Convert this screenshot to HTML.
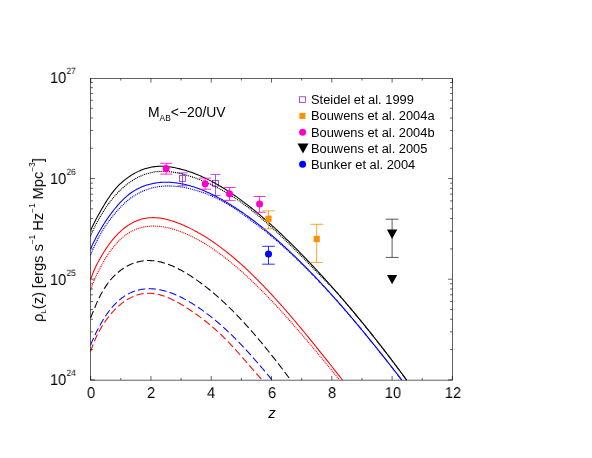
<!DOCTYPE html>
<html><head><meta charset="utf-8"><title>plot</title>
<style>
html,body{margin:0;padding:0;background:#fff;}
body{width:592px;height:458px;position:relative;overflow:hidden;font-family:"Liberation Sans",sans-serif;color:#000;}
.t{position:absolute;white-space:nowrap;line-height:1;will-change:transform;}
.tk{font-size:15.6px;transform:scaleX(0.93);text-rendering:geometricPrecision;}
.tky{transform-origin:0 50%;}
sup,sub{line-height:0;}
.tk sup{font-size:9.1px;vertical-align:8.9px;margin-left:0.4px;}
.lg{font-size:12.85px;left:310.5px;}
.yl sup{font-size:8.3px;vertical-align:8.4px;}
.yl sub{font-size:8px;vertical-align:-3px;}
</style></head><body>
<svg width="592" height="458" viewBox="0 0 592 458" style="position:absolute;left:0;top:0"><rect width="592" height="458" fill="#fff"/><path d="M182.5,172.9V185.8M177.5,172.9h10.0M177.5,185.8h10.0" stroke="#9933cc" stroke-width="0.82" fill="none"/><rect x="179.45" y="175.60" width="6.1" height="5.8" fill="none" stroke="#9933cc" stroke-width="0.85"/><path d="M215.5,174.4V195.4M210.5,174.4h10.0M210.5,195.4h10.0" stroke="#9933cc" stroke-width="0.82" fill="none"/><rect x="212.45" y="180.40" width="6.1" height="5.8" fill="none" stroke="#9933cc" stroke-width="0.85"/><g fill="none" stroke-linejoin="round"><path d="M90.66,230.35 L91.66,228.16 L92.67,226.03 L93.67,223.97 L94.68,221.97 L95.68,220.02 L96.69,218.12 L97.69,216.26 L98.70,214.43 L99.70,212.63 L100.71,210.85 L101.71,209.10 L102.72,207.37 L103.72,205.66 L104.73,203.99 L105.73,202.36 L106.74,200.75 L107.74,199.19 L108.75,197.67 L109.75,196.20 L110.76,194.78 L111.76,193.40 L112.77,192.08 L113.77,190.81 L114.78,189.60 L115.78,188.43 L116.79,187.31 L117.79,186.24 L118.80,185.21 L119.80,184.22 L120.81,183.27 L121.81,182.36 L122.81,181.49 L123.82,180.65 L124.82,179.84 L125.83,179.06 L126.83,178.30 L127.84,177.58 L128.84,176.88 L129.85,176.20 L130.85,175.54 L131.86,174.91 L132.86,174.30 L133.87,173.72 L134.87,173.16 L135.88,172.62 L136.88,172.10 L137.89,171.61 L138.89,171.14 L139.90,170.69 L140.90,170.26 L141.91,169.86 L142.91,169.48 L143.92,169.12 L144.92,168.79 L145.93,168.47 L146.93,168.18 L147.94,167.91 L148.94,167.66 L149.95,167.43 L150.95,167.23 L151.95,167.04 L152.96,166.88 L153.96,166.74 L154.97,166.61 L155.97,166.51 L156.98,166.43 L157.98,166.36 L158.99,166.31 L159.99,166.28 L161.00,166.27 L162.00,166.28 L163.01,166.30 L164.01,166.34 L165.02,166.39 L166.02,166.46 L167.03,166.55 L168.03,166.65 L169.04,166.77 L170.04,166.90 L171.05,167.04 L172.05,167.19 L173.06,167.36 L174.06,167.55 L175.07,167.74 L176.07,167.95 L177.08,168.16 L178.08,168.39 L179.09,168.63 L180.09,168.88 L181.10,169.14 L182.10,169.40 L183.10,169.68 L184.11,169.97 L185.11,170.27 L186.12,170.57 L187.12,170.89 L188.13,171.21 L189.13,171.55 L190.14,171.89 L191.14,172.25 L192.15,172.61 L193.15,172.98 L194.16,173.36 L195.16,173.75 L196.17,174.15 L197.17,174.55 L198.18,174.97 L199.18,175.39 L200.19,175.83 L201.19,176.27 L202.20,176.72 L203.20,177.18 L204.21,177.65 L205.21,178.12 L206.22,178.61 L207.22,179.10 L208.23,179.60 L209.23,180.11 L210.24,180.62 L211.24,181.15 L212.24,181.68 L213.25,182.22 L214.25,182.77 L215.26,183.33 L216.26,183.89 L217.27,184.46 L218.27,185.04 L219.28,185.63 L220.28,186.22 L221.29,186.82 L222.29,187.43 L223.30,188.05 L224.30,188.67 L225.31,189.30 L226.31,189.94 L227.32,190.58 L228.32,191.23 L229.33,191.89 L230.33,192.56 L231.34,193.23 L232.34,193.91 L233.35,194.59 L234.35,195.29 L235.36,195.99 L236.36,196.69 L237.37,197.40 L238.37,198.12 L239.38,198.85 L240.38,199.58 L241.39,200.32 L242.39,201.06 L243.39,201.81 L244.40,202.57 L245.40,203.33 L246.41,204.10 L247.41,204.87 L248.42,205.65 L249.42,206.44 L250.43,207.23 L251.43,208.03 L252.44,208.83 L253.44,209.64 L254.45,210.46 L255.45,211.28 L256.46,212.11 L257.46,212.94 L258.47,213.78 L259.47,214.62 L260.48,215.47 L261.48,216.32 L262.49,217.18 L263.49,218.05 L264.50,218.92 L265.50,219.79 L266.51,220.67 L267.51,221.56 L268.52,222.45 L269.52,223.34 L270.53,224.24 L271.53,225.15 L272.53,226.06 L273.54,226.97 L274.54,227.89 L275.55,228.82 L276.55,229.74 L277.56,230.68 L278.56,231.62 L279.57,232.56 L280.57,233.50 L281.58,234.45 L282.58,235.41 L283.59,236.37 L284.59,237.33 L285.60,238.30 L286.60,239.27 L287.61,240.25 L288.61,241.23 L289.62,242.21 L290.62,243.20 L291.63,244.19 L292.63,245.19 L293.64,246.19 L294.64,247.19 L295.65,248.20 L296.65,249.21 L297.66,250.23 L298.66,251.24 L299.67,252.27 L300.67,253.29 L301.68,254.32 L302.68,255.35 L303.68,256.39 L304.69,257.43 L305.69,258.47 L306.70,259.51 L307.70,260.56 L308.71,261.62 L309.71,262.67 L310.72,263.73 L311.72,264.79 L312.73,265.86 L313.73,266.93 L314.74,268.00 L315.74,269.08 L316.75,270.16 L317.75,271.24 L318.76,272.33 L319.76,273.42 L320.77,274.51 L321.77,275.61 L322.78,276.71 L323.78,277.81 L324.79,278.92 L325.79,280.03 L326.80,281.14 L327.80,282.26 L328.81,283.38 L329.81,284.50 L330.82,285.63 L331.82,286.76 L332.82,287.89 L333.83,289.03 L334.83,290.17 L335.84,291.31 L336.84,292.46 L337.85,293.61 L338.85,294.76 L339.86,295.92 L340.86,297.08 L341.87,298.24 L342.87,299.41 L343.88,300.58 L344.88,301.75 L345.89,302.93 L346.89,304.11 L347.90,305.29 L348.90,306.48 L349.91,307.67 L350.91,308.86 L351.92,310.06 L352.92,311.26 L353.93,312.46 L354.93,313.67 L355.94,314.88 L356.94,316.09 L357.95,317.31 L358.95,318.53 L359.96,319.75 L360.96,320.98 L361.97,322.21 L362.97,323.44 L363.97,324.67 L364.98,325.91 L365.98,327.16 L366.99,328.40 L367.99,329.65 L369.00,330.90 L370.00,332.16 L371.01,333.41 L372.01,334.68 L373.02,335.94 L374.02,337.21 L375.03,338.48 L376.03,339.75 L377.04,341.03 L378.04,342.31 L379.05,343.60 L380.05,344.88 L381.06,346.18 L382.06,347.47 L383.07,348.77 L384.07,350.07 L385.08,351.37 L386.08,352.68 L387.09,353.98 L388.09,355.30 L389.10,356.61 L390.10,357.93 L391.11,359.25 L392.11,360.58 L393.11,361.91 L394.12,363.24 L395.12,364.57 L396.13,365.91 L397.13,367.25 L398.14,368.60 L399.14,369.95 L400.15,371.30 L401.15,372.65 L402.16,374.01 L403.16,375.37 L404.17,376.73 L405.17,378.10 L406.18,379.47 L406.57,380.00" stroke="#000" stroke-width="1.05"/><path d="M90.66,248.76 L91.66,246.52 L92.67,244.35 L93.67,242.25 L94.68,240.22 L95.68,238.25 L96.69,236.34 L97.69,234.48 L98.70,232.67 L99.70,230.91 L100.71,229.19 L101.71,227.51 L102.72,225.86 L103.72,224.26 L104.73,222.69 L105.73,221.15 L106.74,219.65 L107.74,218.19 L108.75,216.75 L109.75,215.35 L110.76,213.98 L111.76,212.64 L112.77,211.33 L113.77,210.04 L114.78,208.79 L115.78,207.57 L116.79,206.37 L117.79,205.21 L118.80,204.07 L119.80,202.97 L120.81,201.90 L121.81,200.86 L122.81,199.86 L123.82,198.88 L124.82,197.94 L125.83,197.03 L126.83,196.16 L127.84,195.32 L128.84,194.51 L129.85,193.74 L130.85,193.00 L131.86,192.29 L132.86,191.61 L133.87,190.97 L134.87,190.35 L135.88,189.76 L136.88,189.20 L137.89,188.67 L138.89,188.17 L139.90,187.69 L140.90,187.24 L141.91,186.81 L142.91,186.40 L143.92,186.02 L144.92,185.66 L145.93,185.32 L146.93,185.00 L147.94,184.70 L148.94,184.42 L149.95,184.16 L150.95,183.92 L151.95,183.69 L152.96,183.48 L153.96,183.29 L154.97,183.11 L155.97,182.95 L156.98,182.81 L157.98,182.68 L158.99,182.57 L159.99,182.47 L161.00,182.39 L162.00,182.33 L163.01,182.28 L164.01,182.24 L165.02,182.22 L166.02,182.21 L167.03,182.22 L168.03,182.24 L169.04,182.28 L170.04,182.33 L171.05,182.39 L172.05,182.46 L173.06,182.55 L174.06,182.65 L175.07,182.77 L176.07,182.89 L177.08,183.03 L178.08,183.18 L179.09,183.34 L180.09,183.52 L181.10,183.70 L182.10,183.90 L183.10,184.10 L184.11,184.32 L185.11,184.55 L186.12,184.79 L187.12,185.04 L188.13,185.30 L189.13,185.57 L190.14,185.85 L191.14,186.15 L192.15,186.45 L193.15,186.76 L194.16,187.08 L195.16,187.42 L196.17,187.76 L197.17,188.11 L198.18,188.47 L199.18,188.84 L200.19,189.22 L201.19,189.61 L202.20,190.01 L203.20,190.42 L204.21,190.84 L205.21,191.27 L206.22,191.70 L207.22,192.15 L208.23,192.60 L209.23,193.06 L210.24,193.53 L211.24,194.01 L212.24,194.50 L213.25,194.99 L214.25,195.49 L215.26,196.01 L216.26,196.52 L217.27,197.05 L218.27,197.59 L219.28,198.13 L220.28,198.68 L221.29,199.23 L222.29,199.80 L223.30,200.37 L224.30,200.95 L225.31,201.53 L226.31,202.12 L227.32,202.72 L228.32,203.33 L229.33,203.94 L230.33,204.56 L231.34,205.18 L232.34,205.82 L233.35,206.45 L234.35,207.10 L235.36,207.75 L236.36,208.40 L237.37,209.07 L238.37,209.74 L239.38,210.41 L240.38,211.09 L241.39,211.78 L242.39,212.48 L243.39,213.18 L244.40,213.88 L245.40,214.59 L246.41,215.31 L247.41,216.04 L248.42,216.76 L249.42,217.50 L250.43,218.24 L251.43,218.99 L252.44,219.74 L253.44,220.50 L254.45,221.27 L255.45,222.04 L256.46,222.81 L257.46,223.59 L258.47,224.38 L259.47,225.17 L260.48,225.97 L261.48,226.77 L262.49,227.58 L263.49,228.40 L264.50,229.22 L265.50,230.04 L266.51,230.88 L267.51,231.71 L268.52,232.55 L269.52,233.40 L270.53,234.25 L271.53,235.11 L272.53,235.97 L273.54,236.84 L274.54,237.71 L275.55,238.59 L276.55,239.47 L277.56,240.36 L278.56,241.25 L279.57,242.15 L280.57,243.05 L281.58,243.96 L282.58,244.88 L283.59,245.79 L284.59,246.72 L285.60,247.64 L286.60,248.57 L287.61,249.51 L288.61,250.45 L289.62,251.40 L290.62,252.35 L291.63,253.30 L292.63,254.26 L293.64,255.23 L294.64,256.20 L295.65,257.17 L296.65,258.15 L297.66,259.13 L298.66,260.12 L299.67,261.11 L300.67,262.10 L301.68,263.10 L302.68,264.11 L303.68,265.12 L304.69,266.13 L305.69,267.15 L306.70,268.17 L307.70,269.19 L308.71,270.22 L309.71,271.25 L310.72,272.29 L311.72,273.33 L312.73,274.38 L313.73,275.43 L314.74,276.48 L315.74,277.54 L316.75,278.60 L317.75,279.66 L318.76,280.73 L319.76,281.81 L320.77,282.88 L321.77,283.96 L322.78,285.05 L323.78,286.14 L324.79,287.23 L325.79,288.33 L326.80,289.42 L327.80,290.53 L328.81,291.63 L329.81,292.74 L330.82,293.86 L331.82,294.98 L332.82,296.10 L333.83,297.22 L334.83,298.35 L335.84,299.48 L336.84,300.62 L337.85,301.75 L338.85,302.90 L339.86,304.04 L340.86,305.19 L341.87,306.34 L342.87,307.50 L343.88,308.65 L344.88,309.82 L345.89,310.98 L346.89,312.15 L347.90,313.32 L348.90,314.49 L349.91,315.67 L350.91,316.85 L351.92,318.03 L352.92,319.22 L353.93,320.41 L354.93,321.60 L355.94,322.80 L356.94,324.00 L357.95,325.20 L358.95,326.40 L359.96,327.61 L360.96,328.82 L361.97,330.03 L362.97,331.25 L363.97,332.47 L364.98,333.69 L365.98,334.91 L366.99,336.14 L367.99,337.37 L369.00,338.60 L370.00,339.83 L371.01,341.07 L372.01,342.31 L373.02,343.55 L374.02,344.79 L375.03,346.04 L376.03,347.29 L377.04,348.54 L378.04,349.80 L379.05,351.05 L380.05,352.31 L381.06,353.57 L382.06,354.84 L383.07,356.10 L384.07,357.37 L385.08,358.64 L386.08,359.91 L387.09,361.19 L388.09,362.47 L389.10,363.75 L390.10,365.03 L391.11,366.31 L392.11,367.60 L393.11,368.88 L394.12,370.17 L395.12,371.46 L396.13,372.76 L397.13,374.05 L398.14,375.35 L399.14,376.65 L400.15,377.95 L401.15,379.25 L401.73,380.00" stroke="#0000ff" stroke-width="1.05"/><path d="M90.66,279.42 L91.66,276.46 L92.67,273.75 L93.67,271.26 L94.68,268.96 L95.68,266.82 L96.69,264.80 L97.69,262.87 L98.70,261.00 L99.70,259.17 L100.71,257.39 L101.71,255.65 L102.72,253.96 L103.72,252.32 L104.73,250.72 L105.73,249.16 L106.74,247.66 L107.74,246.20 L108.75,244.78 L109.75,243.41 L110.76,242.08 L111.76,240.80 L112.77,239.56 L113.77,238.36 L114.78,237.21 L115.78,236.09 L116.79,235.02 L117.79,233.98 L118.80,232.98 L119.80,232.02 L120.81,231.09 L121.81,230.20 L122.81,229.34 L123.82,228.52 L124.82,227.73 L125.83,226.97 L126.83,226.25 L127.84,225.56 L128.84,224.90 L129.85,224.28 L130.85,223.68 L131.86,223.12 L132.86,222.58 L133.87,222.08 L134.87,221.60 L135.88,221.16 L136.88,220.74 L137.89,220.35 L138.89,219.99 L139.90,219.66 L140.90,219.35 L141.91,219.07 L142.91,218.82 L143.92,218.59 L144.92,218.39 L145.93,218.21 L146.93,218.06 L147.94,217.93 L148.94,217.83 L149.95,217.74 L150.95,217.69 L151.95,217.65 L152.96,217.63 L153.96,217.64 L154.97,217.67 L155.97,217.72 L156.98,217.79 L157.98,217.87 L158.99,217.98 L159.99,218.10 L161.00,218.25 L162.00,218.41 L163.01,218.59 L164.01,218.78 L165.02,219.00 L166.02,219.22 L167.03,219.47 L168.03,219.72 L169.04,220.00 L170.04,220.28 L171.05,220.58 L172.05,220.90 L173.06,221.22 L174.06,221.56 L175.07,221.91 L176.07,222.27 L177.08,222.65 L178.08,223.03 L179.09,223.42 L180.09,223.82 L181.10,224.24 L182.10,224.66 L183.10,225.09 L184.11,225.53 L185.11,225.97 L186.12,226.43 L187.12,226.90 L188.13,227.37 L189.13,227.85 L190.14,228.35 L191.14,228.85 L192.15,229.36 L193.15,229.87 L194.16,230.40 L195.16,230.94 L196.17,231.48 L197.17,232.04 L198.18,232.60 L199.18,233.17 L200.19,233.75 L201.19,234.33 L202.20,234.93 L203.20,235.53 L204.21,236.15 L205.21,236.77 L206.22,237.40 L207.22,238.03 L208.23,238.68 L209.23,239.33 L210.24,239.99 L211.24,240.67 L212.24,241.34 L213.25,242.03 L214.25,242.72 L215.26,243.43 L216.26,244.14 L217.27,244.86 L218.27,245.58 L219.28,246.32 L220.28,247.06 L221.29,247.81 L222.29,248.57 L223.30,249.34 L224.30,250.11 L225.31,250.89 L226.31,251.68 L227.32,252.48 L228.32,253.28 L229.33,254.09 L230.33,254.91 L231.34,255.74 L232.34,256.57 L233.35,257.42 L234.35,258.27 L235.36,259.12 L236.36,259.99 L237.37,260.86 L238.37,261.74 L239.38,262.63 L240.38,263.52 L241.39,264.42 L242.39,265.33 L243.39,266.24 L244.40,267.17 L245.40,268.10 L246.41,269.03 L247.41,269.98 L248.42,270.92 L249.42,271.88 L250.43,272.84 L251.43,273.81 L252.44,274.79 L253.44,275.77 L254.45,276.76 L255.45,277.76 L256.46,278.76 L257.46,279.76 L258.47,280.78 L259.47,281.80 L260.48,282.82 L261.48,283.85 L262.49,284.89 L263.49,285.93 L264.50,286.98 L265.50,288.04 L266.51,289.09 L267.51,290.16 L268.52,291.23 L269.52,292.31 L270.53,293.39 L271.53,294.47 L272.53,295.56 L273.54,296.66 L274.54,297.76 L275.55,298.87 L276.55,299.98 L277.56,301.09 L278.56,302.21 L279.57,303.34 L280.57,304.47 L281.58,305.60 L282.58,306.74 L283.59,307.88 L284.59,309.03 L285.60,310.18 L286.60,311.33 L287.61,312.49 L288.61,313.66 L289.62,314.82 L290.62,316.00 L291.63,317.17 L292.63,318.35 L293.64,319.53 L294.64,320.72 L295.65,321.91 L296.65,323.10 L297.66,324.30 L298.66,325.50 L299.67,326.70 L300.67,327.91 L301.68,329.12 L302.68,330.33 L303.68,331.54 L304.69,332.76 L305.69,333.98 L306.70,335.21 L307.70,336.43 L308.71,337.66 L309.71,338.89 L310.72,340.13 L311.72,341.36 L312.73,342.60 L313.73,343.84 L314.74,345.09 L315.74,346.33 L316.75,347.58 L317.75,348.83 L318.76,350.08 L319.76,351.34 L320.77,352.59 L321.77,353.85 L322.78,355.11 L323.78,356.37 L324.79,357.63 L325.79,358.89 L326.80,360.16 L327.80,361.43 L328.81,362.69 L329.81,363.96 L330.82,365.23 L331.82,366.50 L332.82,367.78 L333.83,369.05 L334.83,370.32 L335.84,371.60 L336.84,372.87 L337.85,374.15 L338.85,375.42 L339.86,376.70 L340.86,377.98 L341.87,379.26 L342.45,380.00" stroke="#ff0000" stroke-width="1.05"/><path d="M90.7,235.7h0M91.4,233.9h0M92.2,232.1h0M93.1,230.3h0M93.9,228.6h0M94.8,226.8h0M95.6,225.1h0M96.5,223.4h0M97.4,221.6h0M98.4,219.9h0M99.3,218.2h0M100.3,216.5h0M101.3,214.8h0M102.3,213.2h0M103.3,211.5h0M104.4,209.9h0M105.4,208.2h0M106.5,206.6h0M107.7,205.0h0M108.8,203.4h0M110.0,201.9h0M111.1,200.3h0M112.4,198.8h0M113.6,197.3h0M114.9,195.8h0M116.2,194.4h0M117.5,192.9h0M118.9,191.5h0M120.2,190.2h0M121.7,188.8h0M123.1,187.5h0M124.6,186.3h0M126.1,185.0h0M127.6,183.8h0M129.2,182.7h0M130.8,181.6h0M132.4,180.5h0M134.1,179.5h0M135.8,178.5h0M137.5,177.6h0M139.2,176.7h0M141.0,175.9h0M142.8,175.1h0M144.6,174.4h0M146.5,173.8h0M148.4,173.3h0M150.2,172.8h0M152.1,172.4h0M154.1,172.0h0M156.0,171.7h0M157.9,171.5h0M159.9,171.4h0M161.8,171.3h0M163.8,171.3h0M165.7,171.4h0M167.7,171.5h0M169.6,171.7h0M171.6,171.9h0M173.5,172.2h0M175.4,172.5h0M177.3,172.8h0M179.2,173.2h0M181.1,173.7h0M183.0,174.2h0M184.9,174.7h0M186.8,175.2h0M188.6,175.8h0M190.5,176.4h0M192.4,177.0h0M194.2,177.6h0M196.0,178.2h0M197.9,178.9h0M199.7,179.6h0M201.5,180.3h0M203.3,181.1h0M205.1,181.8h0M206.9,182.6h0M208.7,183.4h0M210.5,184.2h0M212.2,185.0h0M214.0,185.9h0M215.7,186.8h0M217.4,187.7h0M219.2,188.6h0M220.9,189.5h0M222.6,190.5h0M224.3,191.4h0M226.0,192.4h0M227.6,193.4h0M229.3,194.4h0M231.0,195.4h0M232.6,196.5h0M234.3,197.5h0M235.9,198.6h0M237.5,199.7h0M239.1,200.8h0M240.7,201.9h0M242.3,203.1h0M243.9,204.2h0M245.4,205.4h0M247.0,206.5h0M248.5,207.7h0M250.1,208.9h0M251.6,210.2h0M253.1,211.4h0M254.6,212.6h0M256.1,213.9h0M257.6,215.1h0M259.1,216.4h0M260.6,217.6h0M262.1,218.9h0M263.5,220.2h0M265.0,221.5h0M266.4,222.8h0M267.9,224.1h0M269.4,225.4h0M270.8,226.7h0M272.3,228.0h0M273.7,229.3h0M275.1,230.6h0M276.6,231.9h0M278.0,233.3h0M279.4,234.6h0M280.8,235.9h0M282.3,237.3h0M283.7,238.6h0M285.1,240.0h0M286.5,241.3h0M287.9,242.7h0M289.3,244.0h0M290.7,245.4h0M292.1,246.8h0M293.5,248.1h0M294.8,249.5h0M296.2,250.9h0M297.6,252.3h0M299.0,253.7h0M300.3,255.0h0M301.7,256.4h0M303.1,257.8h0M304.5,259.2h0M305.8,260.6h0M307.2,262.0h0M308.5,263.4h0M309.9,264.8h0M311.3,266.2h0M312.6,267.6h0M314.0,269.0h0M315.3,270.4h0M316.7,271.8h0M318.1,273.2h0M319.4,274.5h0M320.8,275.9h0M322.2,277.3h0M323.5,278.7h0M324.9,280.1h0M326.3,281.5h0M327.6,282.9h0M329.0,284.3h0M330.3,285.7h0M331.7,287.1h0M333.1,288.5h0M334.4,289.9h0M335.8,291.3h0M337.1,292.7h0M338.4,294.2h0M339.7,295.7h0M340.9,297.2h0M342.2,298.6h0M343.5,300.1h0M344.7,301.6h0M346.0,303.1h0M347.3,304.6h0M348.5,306.0h0M349.8,307.5h0M351.0,309.0h0M352.3,310.5h0M353.6,312.0h0M354.8,313.5h0M356.0,315.0h0M357.3,316.5h0M358.5,318.0h0M359.8,319.5h0M361.0,321.0h0M362.2,322.5h0M363.5,324.1h0M364.7,325.6h0M365.9,327.1h0M367.2,328.6h0M368.4,330.1h0M369.6,331.6h0M370.8,333.2h0M372.0,334.7h0M373.2,336.2h0M374.5,337.7h0M375.7,339.3h0M376.9,340.8h0M378.1,342.3h0M379.3,343.9h0M380.5,345.4h0M381.7,347.0h0M382.9,348.5h0M384.1,350.0h0M385.2,351.6h0M386.4,353.1h0M387.6,354.7h0M388.8,356.2h0M390.0,357.8h0M391.2,359.3h0M392.3,360.9h0M393.5,362.4h0M394.7,364.0h0M395.9,365.6h0M397.0,367.1h0M398.2,368.7h0M399.4,370.2h0M400.5,371.8h0M401.7,373.4h0M402.9,374.9h0M404.0,376.5h0M405.2,378.1h0M406.3,379.7h0" stroke="#000" stroke-width="1.3" stroke-linecap="round"/><path d="M90.7,254.7h0M91.4,252.9h0M92.2,251.1h0M93.0,249.3h0M93.8,247.5h0M94.6,245.7h0M95.4,244.0h0M96.3,242.2h0M97.2,240.5h0M98.0,238.7h0M98.9,237.0h0M99.9,235.3h0M100.8,233.6h0M101.8,231.9h0M102.8,230.2h0M103.8,228.6h0M104.9,226.9h0M106.0,225.3h0M107.1,223.7h0M108.2,222.1h0M109.3,220.5h0M110.5,219.0h0M111.7,217.4h0M112.9,215.9h0M114.2,214.4h0M115.4,212.9h0M116.7,211.4h0M118.0,210.0h0M119.3,208.5h0M120.6,207.1h0M122.0,205.7h0M123.4,204.3h0M124.8,203.0h0M126.3,201.7h0M127.7,200.4h0M129.3,199.2h0M130.8,198.0h0M132.4,196.9h0M134.0,195.8h0M135.7,194.8h0M137.4,193.8h0M139.1,192.9h0M140.8,192.0h0M142.6,191.2h0M144.4,190.5h0M146.2,189.8h0M148.1,189.1h0M149.9,188.6h0M151.8,188.0h0M153.7,187.6h0M155.6,187.2h0M157.5,186.8h0M159.4,186.5h0M161.4,186.3h0M163.3,186.1h0M165.3,186.0h0M167.2,186.0h0M169.2,186.0h0M171.1,186.0h0M173.1,186.1h0M175.0,186.2h0M177.0,186.4h0M178.9,186.6h0M180.8,186.9h0M182.8,187.2h0M184.7,187.6h0M186.6,187.9h0M188.5,188.3h0M190.4,188.8h0M192.3,189.3h0M194.2,189.8h0M196.0,190.3h0M197.9,190.9h0M199.8,191.5h0M201.6,192.1h0M203.4,192.7h0M205.3,193.4h0M207.1,194.1h0M208.9,194.8h0M210.7,195.6h0M212.5,196.4h0M214.3,197.2h0M216.0,198.0h0M217.8,198.8h0M219.5,199.7h0M221.3,200.6h0M223.0,201.5h0M224.7,202.5h0M226.4,203.4h0M228.1,204.4h0M229.7,205.4h0M231.4,206.4h0M233.1,207.5h0M234.7,208.5h0M236.3,209.6h0M237.9,210.7h0M239.5,211.8h0M241.1,213.0h0M242.7,214.1h0M244.3,215.3h0M245.8,216.4h0M247.4,217.6h0M248.9,218.8h0M250.4,220.0h0M252.0,221.2h0M253.6,222.3h0M255.2,223.5h0M256.7,224.6h0M258.3,225.8h0M259.9,227.0h0M261.4,228.2h0M262.9,229.4h0M264.5,230.6h0M266.0,231.8h0M267.5,233.0h0M269.0,234.2h0M270.5,235.5h0M272.0,236.7h0M273.5,238.0h0M275.0,239.2h0M276.5,240.5h0M278.0,241.8h0M279.4,243.1h0M280.9,244.4h0M282.3,245.7h0M283.8,247.0h0M285.2,248.3h0M286.7,249.6h0M288.1,250.9h0M289.5,252.2h0M291.0,253.6h0M292.4,254.9h0M293.8,256.2h0M295.2,257.6h0M296.6,258.9h0M298.0,260.3h0M299.4,261.6h0M300.8,263.0h0M302.2,264.4h0M303.6,265.7h0M305.0,267.1h0M306.4,268.5h0M307.8,269.9h0M309.1,271.3h0M310.5,272.6h0M311.9,274.0h0M313.2,275.4h0M314.6,276.8h0M316.0,278.2h0M317.3,279.6h0M318.7,281.0h0M320.0,282.4h0M321.4,283.8h0M322.7,285.3h0M324.0,286.7h0M325.4,288.1h0M326.7,289.5h0M328.0,291.0h0M329.4,292.4h0M330.7,293.8h0M332.0,295.2h0M333.3,296.7h0M334.6,298.1h0M335.9,299.6h0M337.2,301.0h0M338.5,302.5h0M339.8,304.0h0M341.1,305.4h0M342.4,306.9h0M343.6,308.4h0M344.9,309.9h0M346.2,311.3h0M347.5,312.8h0M348.7,314.3h0M350.0,315.8h0M351.3,317.3h0M352.5,318.7h0M353.8,320.2h0M355.0,321.7h0M356.3,323.2h0M357.5,324.7h0M358.8,326.2h0M360.0,327.7h0M361.3,329.2h0M362.5,330.7h0M363.8,332.2h0M365.0,333.7h0M366.2,335.2h0M367.5,336.7h0M368.7,338.3h0M369.9,339.8h0M371.2,341.3h0M372.4,342.8h0M373.6,344.3h0M374.9,345.8h0M376.1,347.3h0M377.3,348.9h0M378.5,350.4h0M379.7,351.9h0M380.9,353.4h0M382.2,355.0h0M383.4,356.5h0M384.6,358.0h0M385.8,359.5h0M387.0,361.1h0M388.2,362.6h0M389.4,364.1h0M390.6,365.7h0M391.8,367.2h0M393.0,368.8h0M394.2,370.3h0M395.4,371.8h0M396.6,373.4h0M397.8,374.9h0M399.0,376.5h0M400.2,378.0h0M401.4,379.5h0" stroke="#0000ff" stroke-width="1.3" stroke-linecap="round"/><path d="M90.7,289.6h0M91.3,287.8h0M92.0,286.0h0M92.6,284.1h0M93.4,282.3h0M94.1,280.5h0M94.9,278.7h0M95.7,276.9h0M96.5,275.2h0M97.3,273.4h0M98.2,271.7h0M99.1,269.9h0M100.0,268.2h0M100.9,266.5h0M101.8,264.8h0M102.8,263.1h0M103.7,261.4h0M104.7,259.7h0M105.7,258.0h0M106.8,256.4h0M107.8,254.7h0M108.9,253.1h0M110.0,251.5h0M111.2,249.9h0M112.4,248.4h0M113.6,246.9h0M114.8,245.4h0M116.1,243.9h0M117.4,242.4h0M118.7,241.0h0M120.1,239.7h0M121.6,238.3h0M123.0,237.1h0M124.6,235.8h0M126.1,234.7h0M127.7,233.6h0M129.4,232.5h0M131.1,231.6h0M132.8,230.7h0M134.6,229.8h0M136.4,229.1h0M138.2,228.5h0M140.1,227.9h0M142.0,227.4h0M143.9,227.0h0M145.8,226.6h0M147.7,226.4h0M149.7,226.2h0M151.6,226.1h0M153.6,226.0h0M155.5,226.1h0M157.5,226.2h0M159.4,226.3h0M161.3,226.6h0M163.3,226.8h0M165.2,227.2h0M167.1,227.6h0M169.0,228.0h0M170.9,228.5h0M172.8,229.0h0M174.6,229.6h0M176.5,230.2h0M178.3,230.8h0M180.2,231.5h0M182.0,232.2h0M183.8,232.9h0M185.6,233.6h0M187.4,234.4h0M189.2,235.2h0M190.9,236.1h0M192.7,236.9h0M194.4,237.8h0M196.1,238.7h0M197.9,239.6h0M199.6,240.6h0M201.3,241.5h0M202.9,242.5h0M204.6,243.5h0M206.3,244.6h0M207.9,245.6h0M209.6,246.6h0M211.2,247.7h0M212.8,248.8h0M214.4,249.9h0M216.0,251.0h0M217.6,252.1h0M219.2,253.3h0M220.8,254.4h0M222.3,255.6h0M223.9,256.8h0M225.4,258.0h0M227.0,259.2h0M228.5,260.4h0M230.0,261.6h0M231.5,262.8h0M233.0,264.1h0M234.5,265.3h0M236.0,266.6h0M237.5,267.9h0M239.0,269.1h0M240.4,270.4h0M241.9,271.7h0M243.4,273.0h0M244.8,274.3h0M246.2,275.6h0M247.7,277.0h0M249.1,278.3h0M250.5,279.6h0M251.9,281.0h0M253.3,282.3h0M254.7,283.7h0M256.1,285.0h0M257.5,286.4h0M258.9,287.8h0M260.3,289.1h0M261.7,290.5h0M263.0,291.9h0M264.4,293.3h0M265.8,294.7h0M267.1,296.1h0M268.5,297.5h0M269.8,298.9h0M271.2,300.3h0M272.5,301.7h0M273.9,303.2h0M275.2,304.6h0M276.5,306.0h0M277.8,307.4h0M279.2,308.9h0M280.5,310.3h0M281.8,311.8h0M283.1,313.2h0M284.4,314.6h0M285.7,316.1h0M287.0,317.6h0M288.3,319.0h0M289.6,320.5h0M290.9,321.9h0M292.2,323.4h0M293.5,324.9h0M294.7,326.3h0M296.0,327.8h0M297.3,329.3h0M298.6,330.7h0M299.8,332.2h0M301.1,333.7h0M302.4,335.2h0M303.7,336.7h0M304.9,338.2h0M306.2,339.6h0M307.4,341.1h0M308.7,342.6h0M310.0,344.1h0M311.2,345.6h0M312.5,347.1h0M313.7,348.6h0M315.0,350.1h0M316.2,351.6h0M317.5,353.1h0M318.7,354.6h0M319.9,356.1h0M321.2,357.6h0M322.4,359.1h0M323.7,360.6h0M324.9,362.1h0M326.1,363.6h0M327.4,365.1h0M328.6,366.6h0M329.9,368.1h0M331.1,369.7h0M332.3,371.2h0M333.6,372.7h0M334.8,374.2h0M336.0,375.7h0M337.3,377.2h0M338.5,378.7h0" stroke="#ff0000" stroke-width="1.3" stroke-linecap="round"/><path d="M90.66,317.85 L91.66,315.32 L92.67,312.80 L93.67,310.31 L94.68,307.86 L95.68,305.47 L96.69,303.15 L97.69,300.91 L98.70,298.77 L99.70,296.73 L100.71,294.79 L101.71,292.93 L102.72,291.17 L103.72,289.48 L104.73,287.88 L105.73,286.35 L106.74,284.89 L107.74,283.49 L108.75,282.16 L109.75,280.89 L110.76,279.67 L111.76,278.51 L112.77,277.40 L113.77,276.35 L114.78,275.34 L115.78,274.38 L116.79,273.46 L117.79,272.59 L118.80,271.75 L119.80,270.96 L120.81,270.20 L121.81,269.47 L122.81,268.78 L123.82,268.11 L124.82,267.48 L125.83,266.88 L126.83,266.31 L127.84,265.76 L128.84,265.25 L129.85,264.76 L130.85,264.31 L131.86,263.88 L132.86,263.48 L133.87,263.11 L134.87,262.76 L135.88,262.44 L136.88,262.15 L137.89,261.88 L138.89,261.64 L139.90,261.43 L140.90,261.23 L141.91,261.07 L142.91,260.92 L143.92,260.81 L144.92,260.71 L145.93,260.64 L146.93,260.59 L147.94,260.56 L148.94,260.56 L149.95,260.57 L150.95,260.61 L151.95,260.67 L152.96,260.75 L153.96,260.85 L154.97,260.98 L155.97,261.12 L156.98,261.28 L157.98,261.46 L158.99,261.66 L159.99,261.88 L161.00,262.11 L162.00,262.37 L163.01,262.64 L164.01,262.93 L165.02,263.24 L166.02,263.56 L167.03,263.91 L168.03,264.26 L169.04,264.64 L170.04,265.03 L171.05,265.43 L172.05,265.85 L173.06,266.29 L174.06,266.74 L175.07,267.20 L176.07,267.68 L177.08,268.17 L178.08,268.67 L179.09,269.19 L180.09,269.72 L181.10,270.26 L182.10,270.82 L183.10,271.38 L184.11,271.96 L185.11,272.55 L186.12,273.15 L187.12,273.76 L188.13,274.38 L189.13,275.01 L190.14,275.65 L191.14,276.30 L192.15,276.95 L193.15,277.62 L194.16,278.30 L195.16,278.98 L196.17,279.68 L197.17,280.38 L198.18,281.10 L199.18,281.82 L200.19,282.55 L201.19,283.29 L202.20,284.04 L203.20,284.80 L204.21,285.57 L205.21,286.34 L206.22,287.13 L207.22,287.92 L208.23,288.72 L209.23,289.53 L210.24,290.35 L211.24,291.18 L212.24,292.02 L213.25,292.86 L214.25,293.72 L215.26,294.58 L216.26,295.45 L217.27,296.33 L218.27,297.22 L219.28,298.11 L220.28,299.02 L221.29,299.93 L222.29,300.85 L223.30,301.78 L224.30,302.71 L225.31,303.66 L226.31,304.61 L227.32,305.57 L228.32,306.54 L229.33,307.52 L230.33,308.50 L231.34,309.49 L232.34,310.49 L233.35,311.50 L234.35,312.52 L235.36,313.54 L236.36,314.57 L237.37,315.61 L238.37,316.66 L239.38,317.71 L240.38,318.77 L241.39,319.84 L242.39,320.92 L243.39,322.00 L244.40,323.09 L245.40,324.19 L246.41,325.30 L247.41,326.41 L248.42,327.53 L249.42,328.66 L250.43,329.79 L251.43,330.93 L252.44,332.08 L253.44,333.23 L254.45,334.39 L255.45,335.56 L256.46,336.73 L257.46,337.91 L258.47,339.09 L259.47,340.29 L260.48,341.49 L261.48,342.69 L262.49,343.90 L263.49,345.12 L264.50,346.34 L265.50,347.57 L266.51,348.80 L267.51,350.04 L268.52,351.29 L269.52,352.54 L270.53,353.80 L271.53,355.06 L272.53,356.33 L273.54,357.60 L274.54,358.88 L275.55,360.17 L276.55,361.45 L277.56,362.75 L278.56,364.05 L279.57,365.35 L280.57,366.66 L281.58,367.98 L282.58,369.29 L283.59,370.62 L284.59,371.95 L285.60,373.28 L286.60,374.62 L287.61,375.96 L288.61,377.30 L289.62,378.66 L290.61,380.00" stroke="#000" stroke-width="1.05" stroke-dasharray="7.4 3.3"/><path d="M90.66,344.77 L91.66,342.38 L92.67,340.07 L93.67,337.84 L94.68,335.68 L95.68,333.58 L96.69,331.55 L97.69,329.57 L98.70,327.66 L99.70,325.79 L100.71,323.98 L101.71,322.23 L102.72,320.53 L103.72,318.88 L104.73,317.29 L105.73,315.75 L106.74,314.27 L107.74,312.84 L108.75,311.47 L109.75,310.15 L110.76,308.88 L111.76,307.67 L112.77,306.50 L113.77,305.38 L114.78,304.31 L115.78,303.29 L116.79,302.31 L117.79,301.37 L118.80,300.48 L119.80,299.62 L120.81,298.81 L121.81,298.03 L122.81,297.30 L123.82,296.59 L124.82,295.92 L125.83,295.29 L126.83,294.69 L127.84,294.13 L128.84,293.60 L129.85,293.10 L130.85,292.63 L131.86,292.19 L132.86,291.78 L133.87,291.40 L134.87,291.05 L135.88,290.73 L136.88,290.43 L137.89,290.16 L138.89,289.92 L139.90,289.70 L140.90,289.51 L141.91,289.34 L142.91,289.19 L143.92,289.06 L144.92,288.96 L145.93,288.88 L146.93,288.82 L147.94,288.78 L148.94,288.76 L149.95,288.76 L150.95,288.78 L151.95,288.82 L152.96,288.88 L153.96,288.95 L154.97,289.05 L155.97,289.16 L156.98,289.30 L157.98,289.45 L158.99,289.62 L159.99,289.80 L161.00,290.01 L162.00,290.23 L163.01,290.46 L164.01,290.72 L165.02,290.99 L166.02,291.27 L167.03,291.57 L168.03,291.89 L169.04,292.22 L170.04,292.57 L171.05,292.93 L172.05,293.31 L173.06,293.70 L174.06,294.10 L175.07,294.52 L176.07,294.95 L177.08,295.39 L178.08,295.85 L179.09,296.32 L180.09,296.81 L181.10,297.30 L182.10,297.81 L183.10,298.33 L184.11,298.86 L185.11,299.40 L186.12,299.95 L187.12,300.51 L188.13,301.09 L189.13,301.67 L190.14,302.26 L191.14,302.87 L192.15,303.48 L193.15,304.10 L194.16,304.74 L195.16,305.38 L196.17,306.03 L197.17,306.69 L198.18,307.36 L199.18,308.04 L200.19,308.73 L201.19,309.43 L202.20,310.14 L203.20,310.86 L204.21,311.59 L205.21,312.32 L206.22,313.07 L207.22,313.82 L208.23,314.59 L209.23,315.36 L210.24,316.15 L211.24,316.94 L212.24,317.74 L213.25,318.56 L214.25,319.38 L215.26,320.21 L216.26,321.05 L217.27,321.89 L218.27,322.75 L219.28,323.62 L220.28,324.49 L221.29,325.38 L222.29,326.27 L223.30,327.17 L224.30,328.09 L225.31,329.01 L226.31,329.94 L227.32,330.87 L228.32,331.82 L229.33,332.78 L230.33,333.74 L231.34,334.72 L232.34,335.70 L233.35,336.69 L234.35,337.69 L235.36,338.70 L236.36,339.71 L237.37,340.74 L238.37,341.77 L239.38,342.81 L240.38,343.85 L241.39,344.91 L242.39,345.97 L243.39,347.04 L244.40,348.11 L245.40,349.20 L246.41,350.28 L247.41,351.38 L248.42,352.48 L249.42,353.59 L250.43,354.71 L251.43,355.83 L252.44,356.96 L253.44,358.09 L254.45,359.23 L255.45,360.37 L256.46,361.52 L257.46,362.68 L258.47,363.84 L259.47,365.00 L260.48,366.17 L261.48,367.34 L262.49,368.52 L263.49,369.71 L264.50,370.90 L265.50,372.09 L266.51,373.28 L267.51,374.48 L268.52,375.69 L269.52,376.90 L270.53,378.11 L271.53,379.32 L272.09,380.00" stroke="#0000ff" stroke-width="1.05" stroke-dasharray="7.4 3.3"/><path d="M90.66,351.35 L91.66,348.34 L92.67,345.54 L93.67,342.92 L94.68,340.48 L95.68,338.19 L96.69,336.03 L97.69,333.99 L98.70,332.04 L99.70,330.18 L100.71,328.41 L101.71,326.71 L102.72,325.08 L103.72,323.52 L104.73,322.03 L105.73,320.59 L106.74,319.21 L107.74,317.88 L108.75,316.59 L109.75,315.34 L110.76,314.14 L111.76,312.97 L112.77,311.85 L113.77,310.76 L114.78,309.71 L115.78,308.71 L116.79,307.73 L117.79,306.80 L118.80,305.90 L119.80,305.03 L120.81,304.20 L121.81,303.39 L122.81,302.63 L123.82,301.89 L124.82,301.18 L125.83,300.51 L126.83,299.87 L127.84,299.25 L128.84,298.67 L129.85,298.12 L130.85,297.60 L131.86,297.11 L132.86,296.65 L133.87,296.22 L134.87,295.82 L135.88,295.45 L136.88,295.11 L137.89,294.80 L138.89,294.51 L139.90,294.26 L140.90,294.04 L141.91,293.84 L142.91,293.67 L143.92,293.53 L144.92,293.42 L145.93,293.34 L146.93,293.28 L147.94,293.25 L148.94,293.25 L149.95,293.27 L150.95,293.32 L151.95,293.40 L152.96,293.50 L153.96,293.62 L154.97,293.77 L155.97,293.94 L156.98,294.13 L157.98,294.34 L158.99,294.58 L159.99,294.84 L161.00,295.12 L162.00,295.42 L163.01,295.74 L164.01,296.07 L165.02,296.43 L166.02,296.81 L167.03,297.20 L168.03,297.61 L169.04,298.04 L170.04,298.48 L171.05,298.94 L172.05,299.42 L173.06,299.91 L174.06,300.41 L175.07,300.93 L176.07,301.46 L177.08,302.01 L178.08,302.56 L179.09,303.13 L180.09,303.72 L181.10,304.31 L182.10,304.91 L183.10,305.52 L184.11,306.15 L185.11,306.78 L186.12,307.42 L187.12,308.07 L188.13,308.73 L189.13,309.39 L190.14,310.06 L191.14,310.74 L192.15,311.42 L193.15,312.11 L194.16,312.81 L195.16,313.51 L196.17,314.22 L197.17,314.94 L198.18,315.67 L199.18,316.41 L200.19,317.15 L201.19,317.90 L202.20,318.66 L203.20,319.43 L204.21,320.20 L205.21,320.99 L206.22,321.78 L207.22,322.59 L208.23,323.40 L209.23,324.23 L210.24,325.06 L211.24,325.90 L212.24,326.76 L213.25,327.62 L214.25,328.49 L215.26,329.38 L216.26,330.28 L217.27,331.18 L218.27,332.10 L219.28,333.03 L220.28,333.98 L221.29,334.93 L222.29,335.90 L223.30,336.88 L224.30,337.87 L225.31,338.87 L226.31,339.89 L227.32,340.92 L228.32,341.96 L229.33,343.01 L230.33,344.07 L231.34,345.14 L232.34,346.22 L233.35,347.31 L234.35,348.41 L235.36,349.52 L236.36,350.63 L237.37,351.75 L238.37,352.88 L239.38,354.02 L240.38,355.15 L241.39,356.30 L242.39,357.44 L243.39,358.59 L244.40,359.75 L245.40,360.91 L246.41,362.06 L247.41,363.22 L248.42,364.39 L249.42,365.55 L250.43,366.71 L251.43,367.87 L252.44,369.03 L253.44,370.19 L254.45,371.35 L255.45,372.50 L256.46,373.65 L257.46,374.80 L258.47,375.94 L259.47,377.08 L260.48,378.21 L261.48,379.34 L262.07,380.00" stroke="#ff0000" stroke-width="1.05" stroke-dasharray="7.4 3.3"/></g><path d="M166.2,163.3V174.1M160.2,163.3h12M160.2,174.1h12" stroke="#ff00cc" stroke-width="0.82" fill="none"/><circle cx="166.2" cy="168.6" r="3.5" fill="#ff00cc"/><path d="M205.2,178.1V189.2M199.2,178.1h12M199.2,189.2h12" stroke="#ff00cc" stroke-width="0.82" fill="none"/><circle cx="205.2" cy="183.7" r="3.5" fill="#ff00cc"/><path d="M229.5,187.5V200.4M223.5,187.5h12M223.5,200.4h12" stroke="#ff00cc" stroke-width="0.82" fill="none"/><circle cx="229.5" cy="193.8" r="3.5" fill="#ff00cc"/><path d="M259.6,196.5V212.3M253.6,196.5h12M253.6,212.3h12" stroke="#ff00cc" stroke-width="0.82" fill="none"/><circle cx="259.6" cy="204.1" r="3.5" fill="#ff00cc"/><path d="M268.5,210.9V228.8M262.2,210.9h12.6M262.2,228.8h12.6" stroke="#ff9000" stroke-width="0.82" fill="none"/><rect x="265.4" y="215.7" width="6.2" height="6.2" fill="#ff9000"/><path d="M316.7,224.3V262.4M310.4,224.3h12.6M310.4,262.4h12.6" stroke="#ff9000" stroke-width="0.82" fill="none"/><rect x="313.6" y="235.9" width="6.2" height="6.2" fill="#ff9000"/><path d="M268.5,246.3V264.2M262.2,246.3h12.6M262.2,264.2h12.6" stroke="#0000ff" stroke-width="0.82" fill="none"/><circle cx="268.5" cy="254.1" r="3.5" fill="#0000ff"/><path d="M392.1,219.2V257.4M385.7,219.2h12.8M385.7,257.4h12.8" stroke="#333" stroke-width="0.82" fill="none"/><path d="M386.9,229.5h10.4L392.1,239z" fill="#000"/><path d="M387.0,274.9h10.2L392.1,284.2z" fill="#000"/><g stroke="#000" stroke-width="0.62" fill="none"><rect x="90.66" y="78.37" width="361.74" height="301.76"/><path d="M90.66,380.13v-4.2M90.66,78.37v4.2M120.80,380.13v-2.2M120.80,78.37v2.2M150.95,380.13v-4.2M150.95,78.37v4.2M181.09,380.13v-2.2M181.09,78.37v2.2M211.24,380.13v-4.2M211.24,78.37v4.2M241.38,380.13v-2.2M241.38,78.37v2.2M271.53,380.13v-4.2M271.53,78.37v4.2M301.67,380.13v-2.2M301.67,78.37v2.2M331.82,380.13v-4.2M331.82,78.37v4.2M361.97,380.13v-2.2M361.97,78.37v2.2M392.11,380.13v-4.2M392.11,78.37v4.2M422.25,380.13v-2.2M422.25,78.37v2.2M452.40,380.13v-4.2M452.40,78.37v4.2M90.66,379.85h4.3M452.40,379.85h-4.3M90.66,349.55h2.3M452.40,349.55h-2.3M90.66,331.83h2.3M452.40,331.83h-2.3M90.66,319.25h2.3M452.40,319.25h-2.3M90.66,309.50h2.3M452.40,309.50h-2.3M90.66,301.53h2.3M452.40,301.53h-2.3M90.66,294.79h2.3M452.40,294.79h-2.3M90.66,288.95h2.3M452.40,288.95h-2.3M90.66,283.81h2.3M452.40,283.81h-2.3M90.66,279.20h4.3M452.40,279.20h-4.3M90.66,248.90h2.3M452.40,248.90h-2.3M90.66,231.18h2.3M452.40,231.18h-2.3M90.66,218.60h2.3M452.40,218.60h-2.3M90.66,208.85h2.3M452.40,208.85h-2.3M90.66,200.88h2.3M452.40,200.88h-2.3M90.66,194.14h2.3M452.40,194.14h-2.3M90.66,188.30h2.3M452.40,188.30h-2.3M90.66,183.16h2.3M452.40,183.16h-2.3M90.66,178.55h4.3M452.40,178.55h-4.3M90.66,148.25h2.3M452.40,148.25h-2.3M90.66,130.53h2.3M452.40,130.53h-2.3M90.66,117.95h2.3M452.40,117.95h-2.3M90.66,108.20h2.3M452.40,108.20h-2.3M90.66,100.23h2.3M452.40,100.23h-2.3M90.66,93.49h2.3M452.40,93.49h-2.3M90.66,87.65h2.3M452.40,87.65h-2.3M90.66,82.51h2.3M452.40,82.51h-2.3"/></g><rect x="299.45" y="96.75" width="6.1" height="5.8" fill="none" stroke="#9933cc" stroke-width="0.85"/><rect x="299.4" y="112.9" width="6.1" height="6.0" fill="#ff9000"/><circle cx="302.6" cy="132.3" r="3.5" fill="#ff00cc"/><path d="M297.5,143.6h11L303,153.6z" fill="#000"/><circle cx="302.6" cy="164.2" r="3.5" fill="#0000ff"/></svg>
<div class="t tk tky" style="left:49.6px;top:71.3px;">10<sup>27</sup></div>
<div class="t tk tky" style="left:49.6px;top:171.9px;">10<sup>26</sup></div>
<div class="t tk tky" style="left:49.6px;top:272.6px;">10<sup>25</sup></div>
<div class="t tk tky" style="left:49.6px;top:373.2px;">10<sup>24</sup></div>
<div class="t tk" style="left:70.7px;width:40px;text-align:center;top:386.1px;">0</div>
<div class="t tk" style="left:130.9px;width:40px;text-align:center;top:386.1px;">2</div>
<div class="t tk" style="left:191.2px;width:40px;text-align:center;top:386.1px;">4</div>
<div class="t tk" style="left:251.5px;width:40px;text-align:center;top:386.1px;">6</div>
<div class="t tk" style="left:311.8px;width:40px;text-align:center;top:386.1px;">8</div>
<div class="t tk" style="left:372.9px;width:40px;text-align:center;top:386.1px;">10</div>
<div class="t tk" style="left:433.2px;width:40px;text-align:center;top:386.1px;">12</div>
<div class="t" style="left:252.3px;width:40px;text-align:center;top:404.9px;font-size:15px;font-style:italic;">z</div>
<div class="t" style="left:147.6px;top:105.8px;font-size:13.9px;">M<sub style="font-size:8.4px;vertical-align:-3.6px;">AB</sub>&lt;&#8722;20/UV</div>
<div class="t lg" style="top:94.2px;">Steidel et al. 1999</div>
<div class="t lg" style="top:110.4px;">Bouwens et al. 2004a</div>
<div class="t lg" style="top:126.7px;">Bouwens et al. 2004b</div>
<div class="t lg" style="top:142.9px;">Bouwens et al. 2005</div>
<div class="t lg" style="top:158.5px;">Bunker et al. 2004</div>
<div class="t yl" style="left:0;top:0;font-size:14.62px;transform-origin:0 0;transform:translate(31.0px,321.9px) rotate(-90deg);">&#961;<sub>L</sub>(z) [ergs s<sup>&#8722;1</sup> Hz<sup>&#8722;1</sup> Mpc<sup>&#8722;3</sup>]</div>
</body></html>
